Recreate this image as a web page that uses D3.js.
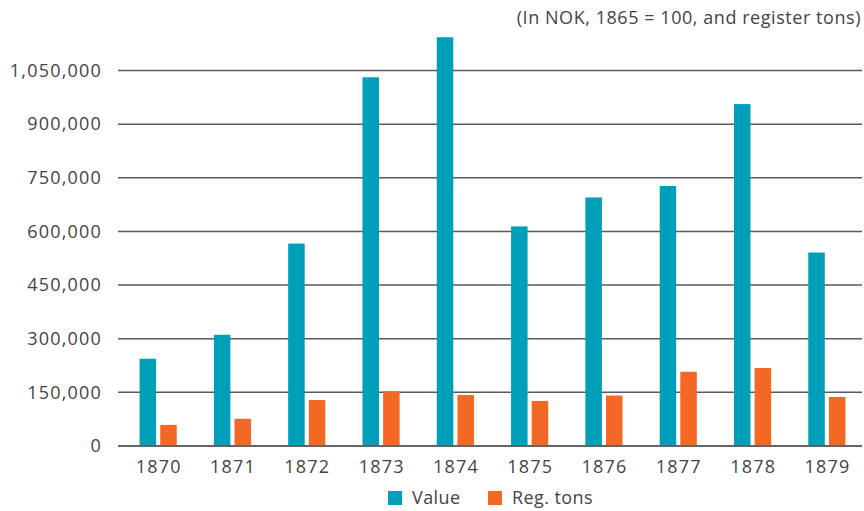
<!DOCTYPE html>
<html lang="en">
<head>
    <meta charset="UTF-8">
    <title>Value and register tons, 1870-1879</title>
    <script src="https://d3js.org/d3.v7.min.js"></script>
    <style>
        body { margin: 0; background: #fff; }
        text { font-family: "Open Sans", sans-serif; fill: #444; font-size: 18px; }
        .num { letter-spacing: 1.2px; }
        .grid line { stroke: #5a5a5a; stroke-width: 1.5px; }
    </style>
</head>
<body>
    <div id="chart"></div>
    <script>
        // data
        const years = ["1870", "1871", "1872", "1873", "1874", "1875", "1876", "1877", "1878", "1879"];
        const valueSeries = [244000, 311000, 566000, 1031000, 1143000, 614000, 695000, 727000, 956000, 541000];
        const tonsSeries = [59000, 76000, 128500, 153000, 142500, 126000, 141000, 207500, 218000, 137000];
        const yTicks = [0, 150000, 300000, 450000, 600000, 750000, 900000, 1050000];
        const seriesNames = ["Value", "Reg. tons"];
        const colors = ["#009fb9", "#f26824"];

        const width = 864, height = 511;
        const svg = d3.select("#chart").append("svg")
            .attr("width", width)
            .attr("height", height);

        const y = d3.scaleLinear()
            .domain([0, 1050000])
            .range([446, 70.5]);

        const x = d3.scaleBand()
            .domain(years)
            .range([121, 864])
            .paddingInner(0.5)
            .paddingOuter(0.25);

        const xInner = d3.scaleBand()
            .domain(seriesNames)
            .range([0, x.bandwidth()])
            .paddingInner(0.2);

        // gridlines + y labels
        const grid = svg.append("g").attr("class", "grid");
        grid.selectAll("line")
            .data(yTicks)
            .join("line")
            .attr("x1", 118).attr("x2", 862)
            .attr("y1", d => y(d)).attr("y2", d => y(d));

        svg.append("g")
            .selectAll("text")
            .data(yTicks)
            .join("text")
            .attr("class", "num")
            .attr("x", 102)
            .attr("y", d => y(d))
            .attr("dy", "0.35em")
            .attr("text-anchor", "end")
            .text(d => d3.format(",")(d));

        // bars
        const rows = years.map((yr, i) => ({ year: yr, vals: [valueSeries[i], tonsSeries[i]] }));
        const groups = svg.append("g")
            .selectAll("g")
            .data(rows)
            .join("g")
            .attr("transform", d => `translate(${x(d.year)},0)`);

        groups.selectAll("rect")
            .data(d => d.vals.map((v, j) => ({ name: seriesNames[j], v, j })))
            .join("rect")
            .attr("x", d => xInner(d.name))
            .attr("width", xInner.bandwidth())
            .attr("y", d => y(d.v))
            .attr("height", d => y(0) - y(d.v))
            .attr("fill", d => colors[d.j]);

        // baseline drawn over bars
        svg.append("line")
            .attr("x1", 118).attr("x2", 862)
            .attr("y1", y(0)).attr("y2", y(0))
            .attr("stroke", "#5a5a5a")
            .attr("stroke-width", 1.5);

        // x labels
        svg.append("g")
            .selectAll("text")
            .data(years)
            .join("text")
            .attr("class", "num")
            .attr("x", d => x(d) + x.bandwidth() / 2 + 0.6)
            .attr("y", 467)
            .attr("dy", "0.35em")
            .attr("text-anchor", "middle")
            .text(d => d);

        // unit note
        svg.append("text")
            .attr("x", 861)
            .attr("y", 18)
            .attr("dy", "0.35em")
            .attr("text-anchor", "end")
            .style("letter-spacing", "0.55px")
            .text("(In NOK, 1865 = 100, and register tons)");

        // legend
        const legendX = [388, 488];
        const legend = svg.append("g")
            .selectAll("g")
            .data(seriesNames)
            .join("g")
            .attr("transform", (d, i) => `translate(${legendX[i]},491)`);
        legend.append("rect")
            .attr("width", 14).attr("height", 14)
            .attr("fill", (d, i) => colors[i]);
        legend.append("text")
            .attr("x", 24)
            .attr("y", 7)
            .attr("dy", "0.35em")
            .style("letter-spacing", "0.4px")
            .text(d => d);
    </script>
</body>
</html>
